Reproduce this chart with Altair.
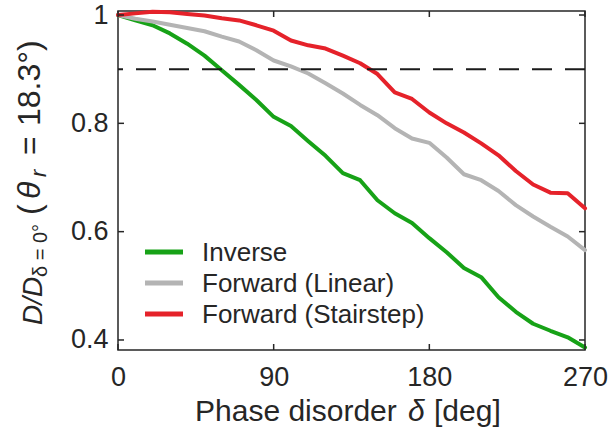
import altair as alt
import pandas as pd

# Phase disorder samples (deg) and normalised D/D(δ=0°) for each method
phase = list(range(0, 271, 10))

inverse = [1.000, 0.990, 0.981, 0.966, 0.947, 0.925, 0.898, 0.871, 0.843, 0.812,
           0.795, 0.767, 0.740, 0.708, 0.695, 0.658, 0.634, 0.616, 0.588, 0.562,
           0.533, 0.516, 0.479, 0.452, 0.430, 0.417, 0.405, 0.386]
forward_linear = [1.000, 0.993, 0.988, 0.982, 0.976, 0.970, 0.960, 0.951, 0.935, 0.916,
                  0.905, 0.892, 0.874, 0.855, 0.834, 0.815, 0.791, 0.772, 0.764, 0.737,
                  0.706, 0.695, 0.675, 0.649, 0.628, 0.609, 0.591, 0.566]
forward_stairstep = [1.000, 1.003, 1.006, 1.005, 1.002, 0.999, 0.994, 0.990, 0.981, 0.971,
                     0.953, 0.944, 0.938, 0.925, 0.911, 0.891, 0.857, 0.845, 0.820, 0.800,
                     0.783, 0.763, 0.741, 0.712, 0.687, 0.672, 0.671, 0.643]

series_names = ["Inverse", "Forward (Linear)", "Forward (Stairstep)"]
series_colors = ["#17a217", "#b4b4b4", "#e5222a"]
threshold = [0.9]
x_ticks = [0, 90, 180, 270]
y_ticks = [0.4, 0.6, 0.8, 1.0]

W, H = 467, 339
FONT = "Liberation Sans"
INK = "#262626"
TICK_LEN = 6

df = pd.DataFrame({
    "phase": phase * 3,
    "ratio": inverse + forward_linear + forward_stairstep,
    "method": [name for name in series_names for _ in phase],
})

x_scale = alt.Scale(domain=[0, 270], nice=False, zero=False)
y_scale = alt.Scale(domain=[0.3815, 1.0074], nice=False, zero=False)

x_enc = alt.X("phase:Q", scale=x_scale, title=None,
              axis=alt.Axis(values=x_ticks, ticks=False, domain=False, grid=False,
                            labelFlush=False, labelOverlap=False, labelBound=False,
                            labelFontSize=27, labelPadding=14))
y_enc = alt.Y("ratio:Q", scale=y_scale, title=None,
              axis=alt.Axis(values=y_ticks, format="~g", ticks=False, domain=False,
                            grid=False, labelOverlap=False, labelFlush=False,
                            labelFontSize=27, labelPadding=10))

lines = alt.Chart(df).mark_line(strokeWidth=4, strokeJoin="round", strokeCap="round").encode(
    x=x_enc,
    y=y_enc,
    color=alt.Color("method:N", scale=alt.Scale(domain=series_names, range=series_colors),
                    legend=None),
)

dashed = alt.Chart(pd.DataFrame({"level": threshold})).mark_rule(
    color="#1a1a1a", strokeWidth=2, strokeDash=[20, 13]
).encode(y=alt.Y("level:Q", scale=y_scale))

# inward ticks on all four sides of the box
ydf = pd.DataFrame({"v": y_ticks})
xdf = pd.DataFrame({"v": x_ticks})
tick_style = dict(color=INK, strokeWidth=1.5)
ticks = [
    alt.Chart(ydf).mark_rule(**tick_style).encode(
        y=alt.Y("v:Q", scale=y_scale), x=alt.value(0), x2=alt.value(TICK_LEN)),
    alt.Chart(ydf).mark_rule(**tick_style).encode(
        y=alt.Y("v:Q", scale=y_scale), x=alt.value(W), x2=alt.value(W - TICK_LEN)),
    alt.Chart(xdf).mark_rule(**tick_style).encode(
        x=alt.X("v:Q", scale=x_scale), y=alt.value(H), y2=alt.value(H - TICK_LEN)),
    alt.Chart(xdf).mark_rule(**tick_style).encode(
        x=alt.X("v:Q", scale=x_scale), y=alt.value(0), y2=alt.value(TICK_LEN)),
]

# legend in the lower-left corner of the axes
legend_layers = []
for i, (name, color) in enumerate(zip(series_names, series_colors)):
    row = pd.DataFrame({"name": [name]})
    ypos = 241 + 31 * i
    legend_layers.append(
        alt.Chart(row).mark_rule(color=color, strokeWidth=5).encode(
            x=alt.value(27), x2=alt.value(65), y=alt.value(ypos)))
    legend_layers.append(
        alt.Chart(row).mark_text(align="left", baseline="middle", font=FONT,
                                 fontSize=26, color=INK).encode(
            x=alt.value(84), y=alt.value(ypos + 1), text="name:N"))


def piece(text, x, y, size, italic=False, angle=0):
    props = dict(text=text, align="left", baseline="alphabetic", font=FONT,
                 fontSize=size, color=INK, angle=angle)
    if italic:
        props["fontStyle"] = "italic"
    return alt.Chart(pd.DataFrame({"t": [text]})).mark_text(**props).encode(
        x=alt.value(x), y=alt.value(y))


# x-axis title: Phase disorder δ [deg]
x_title = [
    piece("Phase disorder", 77, 410, 30),
    piece("δ", 290, 410, 30, italic=True),
    piece("[deg]", 316, 410, 30),
]

# y-axis title: D/D_{δ = 0°} (θ_r = 18.3°), rotated to read upwards
y_title = [
    piece("D/D", -76, 314, 28, italic=True, angle=270),
    piece("δ = 0°", -71, 266, 20, angle=270),
    piece("(", -78, 204, 32, angle=270),
    piece("θ", -78, 188, 32, italic=True, angle=270),
    piece("r", -72, 166, 22, italic=True, angle=270),
    piece("=", -78, 144, 32, angle=270),
    piece("18.3°)", -78, 115, 32, angle=270),
]

chart = alt.layer(
    lines, dashed, *ticks, *legend_layers, *x_title, *y_title
).properties(
    width=W,
    height=H,
    autosize=alt.AutoSizeParams(type="none"),
    padding={"left": 118, "top": 11, "right": 26, "bottom": 87},
).configure_view(
    stroke=INK, strokeWidth=1.5
).configure_axis(
    labelFont=FONT, labelColor=INK
)

chart.save("out.html", embed_options={"renderer": "svg", "actions": False})
